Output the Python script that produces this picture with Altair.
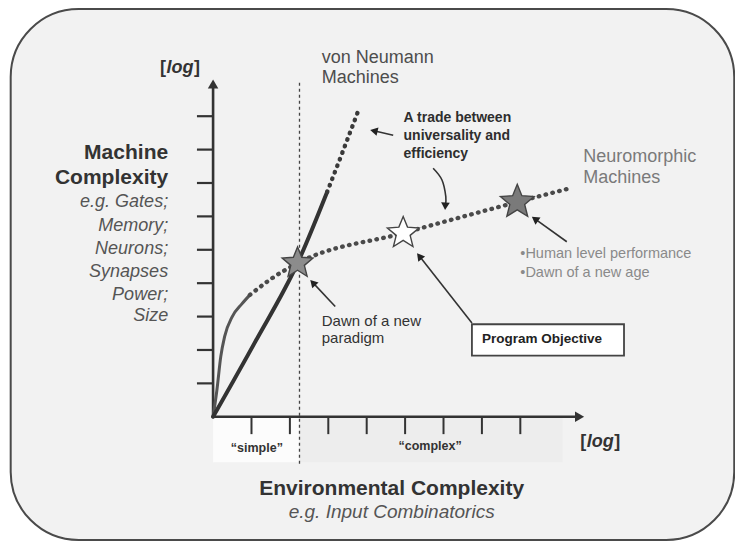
import altair as alt
import numpy as np
import pandas as pd

# ---------------------------------------------------------------- layout
W, H = 727, 533
X_DOMAIN = [-5.34, 13.59]     # "environmental complexity" units
Y_DOMAIN = [-3.72, 12.24]     # "machine complexity" units
KX = W / (X_DOMAIN[1] - X_DOMAIN[0])
KY = H / (Y_DOMAIN[1] - Y_DOMAIN[0])

# ---------------------------------------------------------------- data
FRAME_X = [-5.27, 13.57]
FRAME_Y = [-3.69, 12.21]

X_TICKS = [1, 2, 3, 4, 5, 6, 7, 8]
Y_TICKS = [1, 2, 3, 4, 5, 6, 7, 8, 9]
X_AXIS_END = 9.66
Y_AXIS_END = 10.10
Y_TICK_END = -0.42
X_TICK_END = -0.52

SPLIT_X = 2.25
SPLIT_Y = [-1.41, 10.0]
BAND_NAMES = ["simple", "complex"]
BAND_X0 = [0.0, 2.25]
BAND_X1 = [2.25, 9.10]
BAND_Y = [0.0, -1.36]
BAND_FILL = ["#fcfcfc", "#ededed"]

VN_SOLID_X = [0.0, 1.1, 2.2, 2.97]
VN_SOLID_Y = [0.0, 2.25, 4.6, 6.73]
VN_DOT_X = [2.97, 3.38, 3.78]
VN_DOT_Y = [6.73, 7.95, 9.16]

NM_SOLID_X = [0.0, 0.1, 0.2, 0.3, 0.5, 0.75, 0.96]
NM_SOLID_Y = [0.0, 0.8, 1.8, 2.4, 3.0, 3.38, 3.65]
NM_DOT_X = [0.96, 1.5, 2.2, 4.95, 7.92, 9.28]
NM_DOT_Y = [3.65, 4.12, 4.6, 5.5, 6.43, 6.84]

STAR_X = [2.2, 4.95, 7.92]
STAR_Y = [4.6, 5.5, 6.43]
STAR_FILL = ["#8c8c8c", "#ffffff", "#7a7a7a"]
STAR_SIZE = [1050, 1100, 1250]
STAR_PATH = ("M0,-1L0.26,-0.36L0.951,-0.309L0.42,0.137L0.588,0.809L0,0.44"
             "L-0.588,0.809L-0.42,0.137L-0.951,-0.309L-0.26,-0.36Z")

ARROWS = [
    ("trade", [4.69, 4.09], [8.43, 8.59]),
    ("trade_curve", [5.73, 5.96, 6.06, 6.04], [7.44, 7.09, 6.59, 6.19]),
    ("dawn", [3.18, 2.53], [3.30, 4.10]),
    ("program", [6.74, 5.31], [2.81, 4.90]),
    ("human", [9.21, 8.30], [5.24, 5.99]),
]
AXES = [
    ("yaxis", [0.0, 0.0], [0.0, Y_AXIS_END]),
    ("xaxis", [0.0, X_AXIS_END], [0.0, 0.0]),
]

LEFT_BOLD = ["Machine", "Complexity"]
LEFT_BOLD_Y = [7.71, 6.97]
LEFT_ITALIC = ["e.g. Gates;", "Memory;", "Neurons;", "Synapses", "Power;", "Size"]
LEFT_ITALIC_Y = [6.27, 5.57, 4.87, 4.19, 3.50, 2.88]
LEFT_X = -1.17

BOTTOM_TITLE = "Environmental Complexity"
BOTTOM_SUB = "e.g. Input Combinatorics"
BOTTOM_X = 4.65
BOTTOM_Y = [-2.34, -3.04]

LOG_X = [-1.38, 9.56]
LOG_Y = [10.28, -0.895]

BAND_LABELS = ["\u201csimple\u201d", "\u201ccomplex\u201d"]
BAND_LABEL_X = [1.14, 5.65]
BAND_LABEL_Y = [-1.045, -0.99]

VN_LABEL = ["von Neumann", "Machines"]
VN_LABEL_X = 2.83
VN_LABEL_Y = [10.58, 9.99]
TRADE_LABEL = ["A trade between", "universality and", "efficiency"]
TRADE_LABEL_X = 4.96
TRADE_LABEL_Y = [8.84, 8.29, 7.74]
NM_LABEL = ["Neuromorphic", "Machines"]
NM_LABEL_X = 9.64
NM_LABEL_Y = [7.64, 7.01]
HUMAN_LABEL = ["\u2022Human level performance", "\u2022Dawn of a new age"]
HUMAN_LABEL_X = 8.0
HUMAN_LABEL_Y = [4.75, 4.19]
DAWN_LABEL = ["Dawn of a new", "paradigm"]
DAWN_LABEL_X = 2.83
DAWN_LABEL_Y = [2.72, 2.20]
PROGRAM_LABEL = "Program Objective"
PROGRAM_LABEL_X = 7.0
PROGRAM_LABEL_Y = 2.20
PROGRAM_BOX_X = [6.74, 10.70]
PROGRAM_BOX_Y = [1.83, 2.77]

# ---------------------------------------------------------------- helpers
xs = alt.Scale(domain=X_DOMAIN, nice=False, zero=False)
ys = alt.Scale(domain=Y_DOMAIN, nice=False, zero=False)


def X(f="x"):
    return alt.X(f"{f}:Q", scale=xs, axis=None)


def Y(f="y"):
    return alt.Y(f"{f}:Q", scale=ys, axis=None)


def text_layer(texts, x, y, size, color, weight="normal", style="normal",
               align="left", font="Liberation Sans", dx=0):
    n = len(texts)
    xv = x if isinstance(x, list) else [x] * n
    yv = y if isinstance(y, list) else [y] * n
    df = pd.DataFrame({"t": texts, "x": xv, "y": yv})
    return alt.Chart(df).mark_text(
        align=align, baseline="alphabetic", fontSize=size, font=font,
        fontWeight=weight, fontStyle=style, color=color, dx=dx
    ).encode(x=X(), y=Y(), text="t:N")


def arrow_frames(arrows, back_px):
    line_rows, head_rows = [], []
    for aid, ax, ay in arrows:
        px = np.array(ax) * KX
        py = -np.array(ay) * KY
        dx, dy = px[-1] - px[-2], py[-1] - py[-2]
        L = np.hypot(dx, dy)
        ux, uy = dx / L, dy / L
        cx, cy = px[-1] - ux * back_px, py[-1] - uy * back_px
        ang = float(np.degrees(np.arctan2(ux, -uy)) % 360)
        hx, hy = cx / KX, -cy / KY
        for i in range(len(ax) - 1):
            line_rows.append({"id": aid, "i": i, "x": ax[i], "y": ay[i]})
        line_rows.append({"id": aid, "i": len(ax) - 1, "x": hx, "y": hy})
        head_rows.append({"id": aid, "x": hx, "y": hy, "angle": ang})
    return pd.DataFrame(line_rows), pd.DataFrame(head_rows)


# ---------------------------------------------------------------- layers
frame = alt.Chart(pd.DataFrame({"x": [FRAME_X[0]], "x2": [FRAME_X[1]],
                                "y": [FRAME_Y[0]], "y2": [FRAME_Y[1]]})).mark_rect(
    cornerRadius=68, fill="#f2f2f2", stroke="#4a4a4a", strokeWidth=2
).encode(x=X(), x2="x2:Q", y=Y(), y2="y2:Q")

bands = alt.Chart(pd.DataFrame({"name": BAND_NAMES, "x": BAND_X0, "x2": BAND_X1,
                                "y": [BAND_Y[0]] * 2, "y2": [BAND_Y[1]] * 2,
                                "fill": BAND_FILL})).mark_rect().encode(
    x=X(), x2="x2:Q", y=Y(), y2="y2:Q", color=alt.Color("fill:N", scale=None))

split = alt.Chart(pd.DataFrame({"x": [SPLIT_X], "y": [SPLIT_Y[0]], "y2": [SPLIT_Y[1]]})).mark_rule(
    color="#444444", strokeWidth=1.3, strokeDash=[3, 3]
).encode(x=X(), y=Y(), y2="y2:Q")

ytick = alt.Chart(pd.DataFrame({"y": Y_TICKS, "x": [Y_TICK_END] * len(Y_TICKS),
                                "x2": [0.0] * len(Y_TICKS)})).mark_rule(
    color="#333333", strokeWidth=2.2).encode(x=X(), x2="x2:Q", y=Y())
xtick = alt.Chart(pd.DataFrame({"x": X_TICKS, "y": [X_TICK_END] * len(X_TICKS),
                                "y2": [0.0] * len(X_TICKS)})).mark_rule(
    color="#333333", strokeWidth=2.0).encode(x=X(), y=Y(), y2="y2:Q")

axis_lines, axis_heads = arrow_frames(AXES, 4.5)
axes = alt.Chart(axis_lines).mark_line(color="#333333", strokeWidth=2.6).encode(
    x=X(), y=Y(), detail="id:N", order="i:Q")
axes_h = alt.Chart(axis_heads).mark_point(
    shape="triangle-up", filled=True, color="#333333", opacity=1, size=110
).encode(x=X(), y=Y(), angle=alt.Angle("angle:Q", scale=None))


def curve(xv, yv, color, width, dash=None, interp="monotone"):
    df = pd.DataFrame({"x": xv, "y": yv, "i": range(len(xv))})
    kw = dict(color=color, strokeWidth=width, interpolate=interp, strokeCap="round")
    if dash:
        kw["strokeDash"] = dash
    return alt.Chart(df).mark_line(**kw).encode(x=X(), y=Y(), order="i:Q")


vn_solid = curve(VN_SOLID_X, VN_SOLID_Y, "#333333", 4.0)
vn_dot = curve(VN_DOT_X, VN_DOT_Y, "#3a3a3a", 4.4, dash=[0.5, 6.5])
nm_solid = curve(NM_SOLID_X, NM_SOLID_Y, "#555555", 3.0)
nm_dot = curve(NM_DOT_X, NM_DOT_Y, "#4a4a4a", 4.4, dash=[0.5, 6.5])

stars = alt.Chart(pd.DataFrame({"x": STAR_X, "y": STAR_Y, "fill": STAR_FILL,
                                "size": STAR_SIZE})).mark_point(
    shape=STAR_PATH, filled=True, stroke="#444444", strokeWidth=1.4, opacity=1
).encode(x=X(), y=Y(), fill=alt.Fill("fill:N", scale=None),
         size=alt.Size("size:Q", scale=None))

arr_lines, arr_heads = arrow_frames(ARROWS, 3.8)
arrows = alt.Chart(arr_lines).mark_line(color="#333333", strokeWidth=1.6,
                                        interpolate="cardinal").encode(
    x=X(), y=Y(), detail="id:N", order="i:Q")
arrows_h = alt.Chart(arr_heads).mark_point(
    shape="triangle-up", filled=True, color="#222222", opacity=1, size=75
).encode(x=X(), y=Y(), angle=alt.Angle("angle:Q", scale=None))

box = alt.Chart(pd.DataFrame({"x": [PROGRAM_BOX_X[0]], "x2": [PROGRAM_BOX_X[1]],
                              "y": [PROGRAM_BOX_Y[0]], "y2": [PROGRAM_BOX_Y[1]]})).mark_rect(
    fill="#ffffff", stroke="#444444", strokeWidth=1.8
).encode(x=X(), x2="x2:Q", y=Y(), y2="y2:Q")

texts = [
    text_layer(LEFT_BOLD, LEFT_X, LEFT_BOLD_Y, 21, "#333333", weight="bold", align="right"),
    text_layer(LEFT_ITALIC, LEFT_X, LEFT_ITALIC_Y, 18, "#555555", style="italic", align="right"),
    text_layer([BOTTOM_TITLE], BOTTOM_X, [BOTTOM_Y[0]], 21, "#333333", weight="bold", align="center"),
    text_layer([BOTTOM_SUB], BOTTOM_X, [BOTTOM_Y[1]], 19, "#555555", style="italic", align="center"),
    text_layer(["[", "["], LOG_X, LOG_Y, 18, "#333333", weight="bold"),
    text_layer(["log", "log"], LOG_X, LOG_Y, 18, "#333333", weight="bold", style="italic", dx=6.5),
    text_layer(["]", "]"], LOG_X, LOG_Y, 18, "#333333", weight="bold", dx=34),
    text_layer(BAND_LABELS, BAND_LABEL_X, BAND_LABEL_Y, 12.5, "#333333", weight="bold", align="center"),
    text_layer(VN_LABEL, VN_LABEL_X, VN_LABEL_Y, 18, "#4d4d4d"),
    text_layer(TRADE_LABEL, TRADE_LABEL_X, TRADE_LABEL_Y, 14, "#2e2e2e", weight="bold"),
    text_layer(NM_LABEL, NM_LABEL_X, NM_LABEL_Y, 18, "#7a7a7a"),
    text_layer(HUMAN_LABEL, HUMAN_LABEL_X, HUMAN_LABEL_Y, 14.5, "#8a8a8a"),
    text_layer(DAWN_LABEL, DAWN_LABEL_X, DAWN_LABEL_Y, 15, "#333333"),
    text_layer([PROGRAM_LABEL], PROGRAM_LABEL_X, [PROGRAM_LABEL_Y], 13.5, "#222222", weight="bold"),
]

chart = alt.layer(
    frame, bands, split, ytick, xtick, axes, axes_h,
    nm_solid, vn_solid, vn_dot, nm_dot, arrows, arrows_h, stars, box, *texts
).properties(
    width=W, height=H, padding=0, background="#ffffff",
    autosize=alt.AutoSizeParams(type="none")
).configure_view(stroke=None)

chart.save("out.html", embed_options={"renderer": "svg", "actions": False})
